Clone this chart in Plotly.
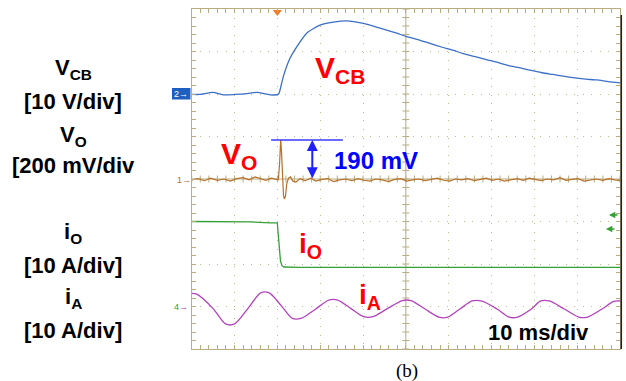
import plotly.graph_objects as go

# ---------------- data (x in ms, y in divisions) ----------------
vcb_t = [0, 1.94, 4.97, 7.31, 10.11, 12.91, 15.25, 18.28, 20.15, 20.5, 21.39, 22.95,
         24.52, 26.85, 29.96, 33.06, 36.19, 40.07, 43.96, 47.86, 50.2, 52.8, 55.64,
         58.5, 61.0, 63.41, 66.2, 68.8, 71.21, 74.0, 76.5, 78.99, 81.8, 84.3, 86.76,
         89.5, 92.0, 94.56, 97.3, 100]
vcb_v = [1.99, 1.99, 2.04, 1.98, 1.99, 2.01, 2.04, 1.98, 1.99, 2.05, 2.41, 2.84,
         3.11, 3.43, 3.62, 3.69, 3.72, 3.66, 3.55, 3.43, 3.35, 3.28, 3.19,
         3.10, 3.03, 2.95, 2.88, 2.81, 2.75, 2.67, 2.62, 2.56, 2.50, 2.46, 2.42,
         2.38, 2.35, 2.33, 2.29, 2.26]

vo_t = [0, 1.5, 3.0, 4.4, 6.0, 7.5, 9.0, 10.5, 12.0, 13.4, 14.8, 16.0, 17.3, 18.6,
        19.6, 20.22, 20.5, 20.78, 20.97, 21.25, 21.43, 21.62, 21.9, 22.18, 22.6,
        23.07, 23.65, 24.35, 25.29, 26.5, 27.8, 29.0, 30.4, 31.8, 33.1, 34.5, 36.0,
        37.4, 38.8, 40.2, 41.6, 43.0, 44.5, 46.0, 47.4, 48.8, 50.2, 51.6, 53.0,
        54.5, 56.0, 57.4, 58.8, 60.2, 61.6, 63.0, 64.5, 66.0, 67.4, 68.8, 70.2,
        71.6, 73.0, 74.5, 76.0, 77.4, 78.8, 80.2, 81.6, 83.0, 84.5, 86.0, 87.4,
        88.8, 90.2, 91.6, 93.0, 94.5, 96.0, 97.4, 98.8, 100]
vo_v = [-0.02, 0.01, -0.04, 0.02, -0.03, 0.0, -0.05, 0.01, 0.03, -0.02, 0.05, 0.01,
        -0.03, 0.02, -0.01, -0.02, 0.33, 0.92, 0.64, -0.02, -0.38, -0.47, -0.40,
        -0.12, 0.02, 0.05, -0.05, -0.07, 0.01, -0.04, 0.02, -0.05, -0.01, 0.01,
        -0.06, -0.02, 0.0, -0.04, 0.01, -0.03, -0.05, 0.0, -0.02, -0.06, -0.01,
        0.01, -0.05, -0.02, 0.0, -0.04, -0.01, 0.02, -0.03, -0.05, 0.0, -0.02,
        0.01, -0.04, -0.01, 0.02, -0.03, 0.0, -0.05, -0.02, 0.01, -0.03, 0.02,
        -0.01, -0.04, 0.0, -0.02, 0.03, -0.03, -0.01, 0.01, -0.05, -0.02, 0.0,
        -0.03, 0.01, -0.02, -0.04]

io_t = [0, 8.94, 13.61, 18.28, 19.99, 20.22, 20.45, 20.73, 21.08, 21.55, 25.29, 100]
io_v = [-1.0, -1.005, -1.01, -1.03, -1.03, -1.32, -1.72, -1.93, -2.04, -2.07, -2.08, -2.08]

ia_t = [0, 1.2, 5.0, 7.9, 10.0, 13.1, 16.1, 18.1, 20.9, 23.5, 25.5, 28.8, 32.0, 34.1,
        37.2, 40.2, 42.3, 45.7, 49.2, 51.2, 54.5, 57.7, 59.8, 62.6, 65.5, 67.6, 71.3,
        74.1, 76.1, 79.3, 81.5, 83.5, 87.0, 90.4, 92.4, 95.8, 98.5, 100]
ia_v = [-2.69, -2.71, -3.05, -3.41, -3.41, -3.05, -2.68, -2.68, -2.98, -3.28, -3.28,
        -3.07, -2.85, -2.85, -3.05, -3.24, -3.24, -3.05, -2.86, -2.86, -3.06, -3.25,
        -3.25, -3.06, -2.87, -2.87, -3.06, -3.25, -3.25, -3.06, -2.87, -2.87, -3.06,
        -3.25, -3.25, -3.06, -2.88, -2.87]

# measurement cursor (190 mV)
cursor_t = [18.55, 35.3]
cursor_level = 0.918
vo_base = -0.02
arrow_t = 28.16
trigger_t = 20.0

# ---------------- styles ----------------
W, H = 626, 381
L, R, T, B = 191.7, 620.0, 9.0, 349.0
FRAME = "#b8ac80"
GRID = "#c4b994"
C_BLUE = "#3b6fc6"
C_BROWN = "#b5702a"
C_GREEN = "#35a035"
C_MAG = "#b343bd"
SANS = "Liberation Sans, Arial, sans-serif"


def pxx(x):
    return x / W


def pxy(y):
    return 1 - y / H


fig = go.Figure()

fig.add_trace(go.Scatter(x=vcb_t, y=vcb_v, mode="lines", line=dict(color=C_BLUE, width=1.3, shape="spline", smoothing=0.6)))
fig.add_trace(go.Scatter(x=vo_t, y=vo_v, mode="lines", line=dict(color=C_BROWN, width=1.2)))
fig.add_trace(go.Scatter(x=io_t, y=io_v, mode="lines", line=dict(color=C_GREEN, width=1.3)))
fig.add_trace(go.Scatter(x=ia_t, y=ia_v, mode="lines", line=dict(color=C_MAG, width=1.3, shape="spline", smoothing=0.8)))
fig.add_trace(go.Scatter(x=cursor_t, y=[cursor_level, cursor_level], mode="lines", line=dict(color="#3a3aff", width=1.6)))
fig.add_trace(go.Scatter(x=[trigger_t], y=[3.93], mode="markers", cliponaxis=False,
                         marker=dict(symbol="triangle-down", size=8, color="#f07a28")))

axis_common = dict(showticklabels=False, showline=True, linecolor=FRAME, linewidth=1, mirror="allticks",
                   ticks="inside", ticklen=4, tickcolor=FRAME, zeroline=False, showgrid=True,
                   gridcolor=GRID, gridwidth=1, fixedrange=True)
fig.update_xaxes(domain=[pxx(L), pxx(R)], range=[0, 100], tick0=0, dtick=10, griddash="1px,7.57px",
                 minor=dict(dtick=2, ticklen=4, tickcolor=FRAME, ticks="inside", showgrid=False), **axis_common)
fig.update_yaxes(domain=[pxy(B), pxy(T)], range=[-4, 4], tick0=0, dtick=1, griddash="1px,7.5px",
                 minor=dict(dtick=0.2, ticklen=4, tickcolor=FRAME, ticks="inside", showgrid=False), **axis_common)

shapes = []
# centre cross
shapes.append(dict(type="line", xref="x", yref="y", x0=50, x1=50, y0=-4, y1=4, line=dict(color=FRAME, width=1), layer="below"))
shapes.append(dict(type="line", xref="x", yref="y", x0=0, x1=100, y0=0, y1=0, line=dict(color=FRAME, width=1), layer="below"))
for k in range(-20, 21):
    shapes.append(dict(type="line", xref="x", yref="y", xsizemode="pixel", xanchor=50, x0=-3.5, x1=3.5,
                       y0=k * 0.2, y1=k * 0.2, line=dict(color=FRAME, width=1), layer="below"))
for k in range(0, 51):
    shapes.append(dict(type="line", xref="x", yref="y", ysizemode="pixel", yanchor=0, y0=-3.5, y1=3.5,
                       x0=k * 2, x1=k * 2, line=dict(color=FRAME, width=1), layer="below"))
# scope screen edge on right
shapes.append(dict(type="line", xref="paper", yref="paper", x0=pxx(621.3), x1=pxx(621.3), y0=pxy(15), y1=pxy(349),
                   line=dict(color="#202020", width=1.5)))
# channel 2 marker box
shapes.append(dict(type="rect", xref="paper", yref="paper", x0=pxx(172), x1=pxx(190.5), y0=pxy(99.5), y1=pxy(88),
                   fillcolor="#1f5fbf", line=dict(width=0)))

ann = []
# left labels
left = [("<b>V<sub>CB</sub></b>", 69), ("<b>[10 V/div]</b>", 101), ("<b>V<sub>O</sub></b>", 136),
        ("<b>[200 mV/div</b>", 165), ("<b>i<sub>O</sub></b>", 233), ("<b>[10 A/div]</b>", 265),
        ("<b>i<sub>A</sub></b>", 298), ("<b>[10 A/div]</b>", 330)]
for txt, y in left:
    ann.append(dict(text=txt, x=pxx(73), y=pxy(y), xref="paper", yref="paper", xanchor="center", yanchor="middle",
                    showarrow=False, font=dict(family=SANS, size=22, color="black")))

# red labels
red = [("<b>V<sub>CB</sub></b>", 313, 70, 30), ("<b>V<sub>O</sub></b>", 219, 156, 30),
       ("<b>i<sub>O</sub></b>", 297, 245, 28), ("<b>i<sub>A</sub></b>", 357, 296, 28)]
for txt, x, y, s in red:
    ann.append(dict(text=txt, x=pxx(x), y=pxy(y), xref="paper", yref="paper", xanchor="left", yanchor="middle",
                    showarrow=False, font=dict(family=SANS, size=s, color="#ff0000")))

ann.append(dict(text="<b>190 mV</b>", x=pxx(332), y=pxy(160), xref="paper", yref="paper", xanchor="left",
                yanchor="middle", showarrow=False, font=dict(family=SANS, size=24, color="#0000ff")))
ann.append(dict(text="<b>10 ms/div</b>", x=pxx(486), y=pxy(332), xref="paper", yref="paper", xanchor="left",
                yanchor="middle", showarrow=False, font=dict(family=SANS, size=22, color="black")))
ann.append(dict(text="(b)", x=pxx(406.5), y=pxy(370.5), xref="paper", yref="paper", xanchor="center",
                yanchor="middle", showarrow=False, font=dict(family="Liberation Serif, Times New Roman, serif", size=19, color="black")))

# double arrow for 190 mV
ann.append(dict(text="", x=arrow_t, y=cursor_level, ax=arrow_t, ay=vo_base, xref="x", yref="y", axref="x", ayref="y",
                showarrow=True, arrowside="end+start", arrowhead=2, arrowsize=1.1, arrowwidth=2, arrowcolor="#2020ff", standoff=0))

# channel markers
ann.append(dict(text="2\u2192", x=pxx(181), y=pxy(94), xref="paper", yref="paper", xanchor="center", yanchor="middle",
                showarrow=False, font=dict(family=SANS, size=9, color="white")))
ann.append(dict(text="1\u2192", x=pxx(184), y=pxy(180), xref="paper", yref="paper", xanchor="center", yanchor="middle",
                showarrow=False, font=dict(family=SANS, size=9, color=C_BROWN)))
ann.append(dict(text="<span style='color:%s'>4</span>\u2192" % C_GREEN, x=pxx(181), y=pxy(307), xref="paper", yref="paper",
                xanchor="center", yanchor="middle", showarrow=False, font=dict(family=SANS, size=9, color=C_MAG)))
# green reference arrows at right
for hx, hy, tail in [(609, 215, 10), (606, 229, 10)]:
    ann.append(dict(text="", x=pxx(hx), y=pxy(hy), xref="paper", yref="paper", ax=tail, ay=0, showarrow=True,
                    arrowhead=2, arrowsize=0.9, arrowwidth=1.4, arrowcolor=C_GREEN, standoff=0))

fig.update_layout(width=W, height=H, margin=dict(l=0, r=0, t=0, b=0), paper_bgcolor="white",
                  plot_bgcolor="white", showlegend=False, shapes=shapes, annotations=ann)

fig.write_html("out.html")
